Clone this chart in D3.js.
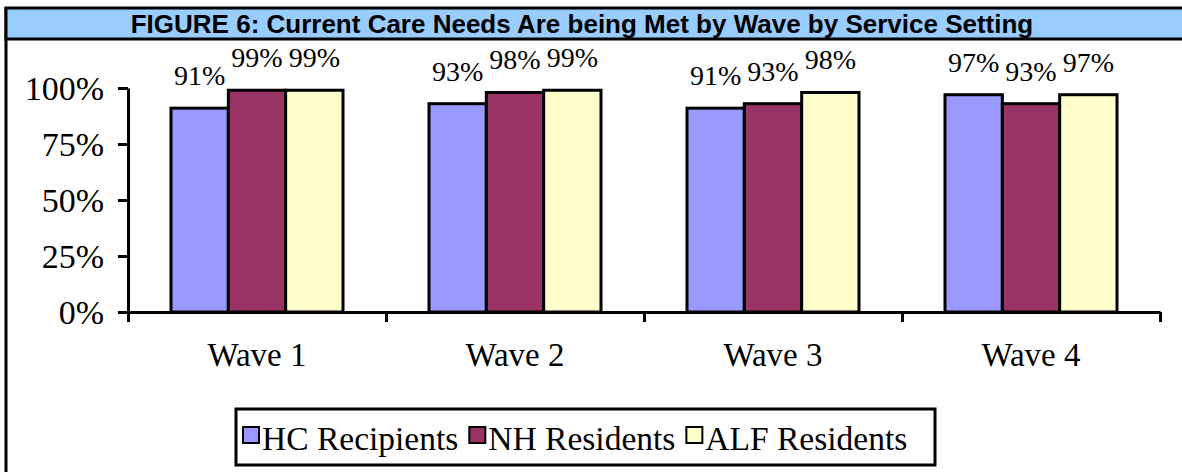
<!DOCTYPE html>
<html>
<head>
<meta charset="utf-8">
<script src="https://d3js.org/d3.v7.min.js"></script>
<style>
  body { margin: 0; background: white; }
  .serif { font-family: 'Liberation Serif', 'Times New Roman', serif; }
  .tick text { font-family: 'Liberation Serif', 'Times New Roman', serif; }
</style>
</head>
<body>
<script>
var waves = ["Wave 1", "Wave 2", "Wave 3", "Wave 4"];
var settings = ["HC Recipients", "NH Residents", "ALF Residents"];
var hcValues = [91, 93, 91, 97];
var nhValues = [99, 98, 93, 93];
var alfValues = [99, 99, 98, 97];
var yTicks = [0, 25, 50, 75, 100];
var colors = ["#9999ff", "#993366", "#ffffcc"];

var width = 1182, height = 472;
var svg = d3.select("body").append("svg").attr("width", width).attr("height", height);

// frame + title bar
svg.append("line").attr("x1", 6).attr("x2", 6).attr("y1", 7).attr("y2", height).attr("stroke", "black").attr("stroke-width", 3);
svg.append("rect").attr("x", 6).attr("y", 8).attr("width", width + 10).attr("height", 31)
   .attr("fill", "#99ccff").attr("stroke", "black").attr("stroke-width", 3);
svg.append("text").attr("x", 582).attr("y", 33).attr("text-anchor", "middle")
   .style("font-family", "'Liberation Sans', Arial, sans-serif").style("font-weight", "bold").style("font-size", "26px")
   .text("FIGURE 6: Current Care Needs Are being Met by Wave by Service Setting");

var rows = waves.map(function(w, i) { return [hcValues[i], nhValues[i], alfValues[i]]; });

var x0 = d3.scaleBand().domain(waves).range([128, 1160]).paddingInner(0).paddingOuter(0);
var x1 = d3.scaleBand().domain(settings).range([43, x0.bandwidth() - 43]);
var y = d3.scaleLinear().domain([0, 100]).range([312, 88]);

// bars
var groups = svg.append("g").selectAll("g").data(rows).enter().append("g")
   .attr("transform", function(d, i) { return "translate(" + x0(waves[i]) + ",0)"; });
groups.selectAll("rect").data(function(d) { return d; }).enter().append("rect")
   .attr("x", function(d, j) { return x1(settings[j]); })
   .attr("y", function(d) { return y(d); })
   .attr("width", x1.bandwidth())
   .attr("height", function(d) { return y(0) - y(d); })
   .attr("fill", function(d, j) { return colors[j]; })
   .attr("stroke", "black").attr("stroke-width", 3);
groups.selectAll("text").data(function(d) { return d; }).enter().append("text")
   .attr("class", "serif")
   .attr("x", function(d, j) { return x1(settings[j]) + x1.bandwidth() / 2; })
   .attr("y", function(d) { return y(d) - 23; })
   .attr("text-anchor", "middle")
   .style("font-size", "28px")
   .text(function(d) { return d + "%"; });

// y axis
var yAxis = svg.append("g").attr("transform", "translate(128,0)")
   .call(d3.axisLeft(y).tickValues(yTicks).tickFormat(function(d) { return d + "%"; }).tickSize(10).tickSizeOuter(0));
yAxis.selectAll("text").style("font-size", "34px").attr("x", -24).attr("dy", "0.35em");

// x axis
var xAxis = svg.append("g").attr("transform", "translate(0,312)")
   .call(d3.axisBottom(d3.scaleLinear().domain([0, 4]).range([128, 1160])).tickValues([0, 1, 2, 3, 4]).tickFormat("").tickSize(10).tickSizeOuter(0));
svg.selectAll(".domain").attr("stroke-width", 3);
svg.selectAll(".tick line").attr("stroke-width", 3);
svg.append("g").selectAll("text").data(waves).enter().append("text")
   .attr("class", "serif")
   .attr("x", function(d) { return x0(d) + x0.bandwidth() / 2; })
   .attr("y", 366).attr("text-anchor", "middle")
   .style("font-size", "33px")
   .text(function(d) { return d; });

// legend
var legend = svg.append("g");
legend.append("rect").attr("x", 236).attr("y", 409).attr("width", 699).attr("height", 56)
   .attr("fill", "white").attr("stroke", "black").attr("stroke-width", 3);
var lx = 243;
settings.forEach(function(s, i) {
  legend.append("rect").attr("x", lx).attr("y", 427).attr("width", 16).attr("height", 16)
     .attr("fill", colors[i]).attr("stroke", "black").attr("stroke-width", 2);
  var t = legend.append("text").attr("class", "serif").attr("x", lx + 19).attr("y", 450)
     .style("font-size", "33.5px")
     .text(s);
  lx += 19 + t.node().getComputedTextLength() + 11;
});
</script>
</body>
</html>
